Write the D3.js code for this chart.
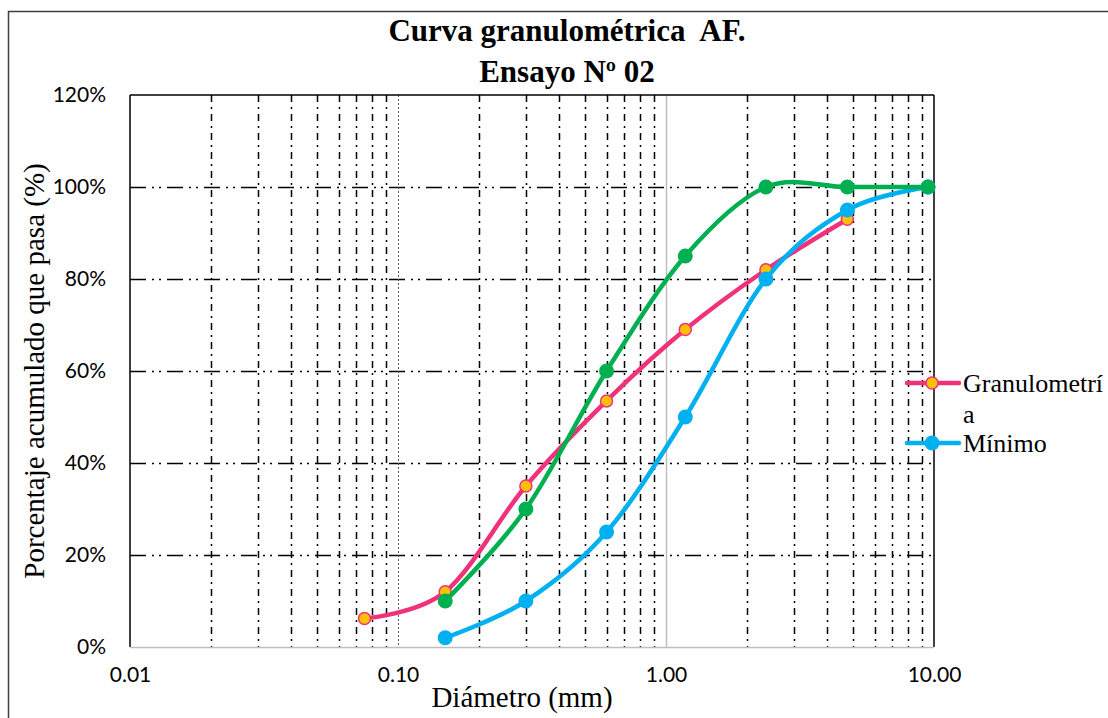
<!DOCTYPE html>
<html>
<head>
<meta charset="utf-8">
<script src="https://cdn.jsdelivr.net/npm/d3@7"></script>
<style>
  html, body { margin: 0; padding: 0; background: #fff; }
  svg { display: block; }
</style>
</head>
<body>
<svg id="chart" width="1108" height="718"></svg>
<script>
// ---- data ----
const sieves = [0.075, 0.15, 0.30, 0.60, 1.18, 2.36, 4.75, 9.50];
const granulometria = [6.2, 12, 35, 53.5, 69, 82, 93, null];
const minimo = [null, 2, 10, 25, 50, 80, 95, 100];
const maximo = [null, 10, 30, 60, 85, 100, 100, 100];
const yTicks = [0, 20, 40, 60, 80, 100, 120];
const xTicks = [0.01, 0.1, 1, 10];
const xTickLabels = ["0.01", "0.10", "1.00", "10.00"];
const titleLines = ["Curva granulométrica  AF.", "Ensayo Nº 02"];
const legendNames = ["Granulometría", "Mínimo"];

const svg = d3.select("#chart");
const W = 1108, H = 718;
const L = 130, R = 934, T = 95, B = 647;
const serif = "'Liberation Serif', 'Times New Roman', serif";
const sans = "Lato, 'Open Sans', sans-serif";

const x = d3.scaleLog().domain([0.01, 10]).range([L, R]);
const y = d3.scaleLinear().domain([0, 120]).range([B, T]);

// outer border (only top and left visible)
svg.append("path").attr("d", `M8.5,${H} L8.5,11.5 L${W},11.5`)
  .attr("fill", "none").attr("stroke", "#404040").attr("stroke-width", 1.5);

// minor vertical grid
const minor = [];
[0.01, 0.1, 1].forEach(d => { for (let k = 2; k <= 9; k++) minor.push(+(d * k).toPrecision(3)); });
svg.append("g").selectAll("line").data(minor).join("line")
  .attr("x1", d => Math.round(x(d)) + 0.5).attr("x2", d => Math.round(x(d)) + 0.5)
  .attr("y1", T).attr("y2", B)
  .attr("stroke", "#000").attr("stroke-width", 1.5)
  .attr("stroke-dasharray", "7,5,2,5");

// horizontal grid
svg.append("g").selectAll("line").data(yTicks.filter(v => v > 0 && v < 120)).join("line")
  .attr("x1", L).attr("x2", R)
  .attr("y1", d => Math.round(y(d)) + 0.5).attr("y2", d => Math.round(y(d)) + 0.5)
  .attr("stroke", "#000").attr("stroke-width", 1.5)
  .attr("stroke-dasharray", "16,6,2,5,2,6");

// 0.1 dotted line
svg.append("line").attr("x1", Math.round(x(0.1)) + 0.5).attr("x2", Math.round(x(0.1)) + 0.5)
  .attr("y1", T).attr("y2", B).attr("stroke", "#555").attr("stroke-width", 1)
  .attr("stroke-dasharray", "2,2");
// 1.0 solid grey
svg.append("line").attr("x1", Math.round(x(1)) + 0.5).attr("x2", Math.round(x(1)) + 0.5)
  .attr("y1", T).attr("y2", B).attr("stroke", "#bfbfbf").attr("stroke-width", 1.5);

// frame lines
svg.append("line").attr("x1", L).attr("x2", L).attr("y1", T).attr("y2", B)
  .attr("stroke", "#000").attr("stroke-width", 1.5);
svg.append("line").attr("x1", R).attr("x2", R).attr("y1", T).attr("y2", B)
  .attr("stroke", "#000").attr("stroke-width", 1.5);
svg.append("line").attr("x1", L).attr("x2", R).attr("y1", T).attr("y2", T)
  .attr("stroke", "#000").attr("stroke-width", 1.5);
svg.append("line").attr("x1", L).attr("x2", R).attr("y1", B + 0.5).attr("y2", B + 0.5)
  .attr("stroke", "#bfbfbf").attr("stroke-width", 1.5);

// axes (labels only)
const yAxis = d3.axisLeft(y).tickValues(yTicks).tickFormat(d => d + "%").tickSize(0).tickPadding(24);
const gy = svg.append("g").attr("transform", `translate(${L},0)`).call(yAxis);
gy.select(".domain").remove();
gy.selectAll("text").attr("font-family", sans).attr("font-size", 21).attr("fill", "#000");

const xAxis = d3.axisBottom(x).tickValues(xTicks).tickFormat((d, i) => xTickLabels[i]).tickSize(0).tickPadding(20);
const gx = svg.append("g").attr("transform", `translate(0,${B})`).call(xAxis);
gx.select(".domain").remove();
gx.selectAll("text").attr("font-family", sans).attr("font-size", 21).attr("fill", "#000");

// series
const line = d3.line()
  .defined(d => d[1] != null)
  .x(d => x(d[0])).y(d => y(d[1]))
  .curve(d3.curveCardinal.tension(0));

function series(vals, color, fill, stroke, r) {
  const pts = sieves.map((s, i) => [s, vals[i]]).filter(d => d[1] != null);
  const g = svg.append("g");
  g.append("path").datum(pts).attr("d", line)
    .attr("fill", "none").attr("stroke", color).attr("stroke-width", 4.5)
    .attr("stroke-linejoin", "round").attr("stroke-linecap", "round");
  g.selectAll("circle").data(pts).join("circle")
    .attr("cx", d => x(d[0])).attr("cy", d => y(d[1])).attr("r", r)
    .attr("fill", fill).attr("stroke", stroke).attr("stroke-width", stroke === "none" ? 0 : 1.5);
}
const pink = "#F0327A", orange = "#FFC000", blue = "#00B0F0", green = "#00B050";
series(granulometria, pink, orange, pink, 6);
series(minimo, blue, blue, "none", 7.5);
series(maximo, green, green, "none", 7.5);

// title
svg.append("g").selectAll("text").data(titleLines).join("text")
  .attr("x", 567).attr("y", (d, i) => 41 + i * 41)
  .attr("text-anchor", "middle")
  .attr("font-family", serif)
  .attr("font-weight", "bold").attr("font-size", 31).attr("fill", "#000")
  .attr("xml:space", "preserve").style("white-space", "pre")
  .text(d => d);

// axis titles
svg.append("text").attr("transform", `translate(44,371) rotate(-90)`)
  .attr("text-anchor", "middle")
  .attr("font-family", serif)
  .attr("font-size", 29).attr("fill", "#000")
  .text("Porcentaje acumulado que pasa (%)");
svg.append("text").attr("x", 522).attr("y", 707)
  .attr("text-anchor", "middle")
  .attr("font-family", serif)
  .attr("font-size", 29).attr("fill", "#000")
  .text("Diámetro (mm)");

// legend
const lg = svg.append("g").attr("font-family", serif)
  .attr("font-size", 26).attr("fill", "#000");
const leg = [
  { y: 383, color: pink, fill: orange, stroke: pink, r: 6, lines: [legendNames[0].slice(0, -1), legendNames[0].slice(-1)] },
  { y: 443, color: blue, fill: blue, stroke: "none", r: 7.5, lines: [legendNames[1]] }
];
leg.forEach(d => {
  lg.append("line").attr("x1", 907).attr("x2", 959).attr("y1", d.y).attr("y2", d.y)
    .attr("stroke", d.color).attr("stroke-width", 4.5).attr("stroke-linecap", "round");
  lg.append("circle").attr("cx", 932).attr("cy", d.y).attr("r", d.r)
    .attr("fill", d.fill).attr("stroke", d.stroke).attr("stroke-width", d.stroke === "none" ? 0 : 1.5);
  d.lines.forEach((t, i) => {
    lg.append("text").attr("x", 963).attr("y", d.y + 9 + i * 31).text(t);
  });
});
</script>
</body>
</html>
